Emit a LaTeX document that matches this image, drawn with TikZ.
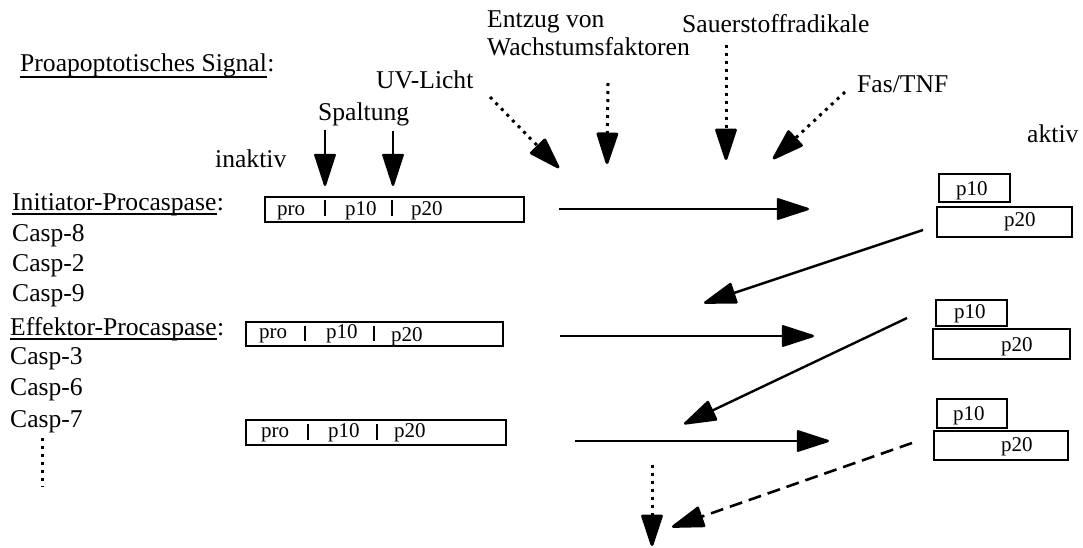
\documentclass[tikz,border=0pt]{standalone}
\usepackage{fontspec}
\setmainfont{Liberation Serif}
\usetikzlibrary{arrows.meta}
\begin{document}
\begin{tikzpicture}[x=1pt,y=-1pt,
  lbl/.style={anchor=base west,inner sep=0pt,font=\fontsize{25.6}{30}\selectfont},
  sm/.style={anchor=base west,inner sep=0pt,font=\fontsize{21}{24}\selectfont},
  box/.style={draw,line width=2.8pt,inner sep=0pt},
  sep/.style={line width=2.8pt},
  uline/.style={line width=2.2pt},
  tip/.style={-{Triangle[length=35pt,width=22pt,round]}},
  arr/.style={line width=2.4pt,tip},
  dotarr/.style={line width=3pt,dash pattern=on 3pt off 5pt,tip},
  dasharr/.style={line width=2.6pt,dash pattern=on 13pt off 7pt,tip}
]
\useasboundingbox (0,0) rectangle (1083,547);

% left labels
\node[lbl] (sig) at (20,71) {Proapoptotisches Signal};
\node[lbl] (sigc) at (sig.base east) {:};
\draw[uline] ([yshift=-6pt]sig.base west) -- ([yshift=-6pt]sig.base east);

\node[lbl] (ini) at (12,210) {Initiator-Procaspase};
\node[lbl] (inic) at (ini.base east) {:};
\draw[uline] ([yshift=-4pt]ini.base west) -- ([yshift=-4pt]ini.base east);
\node[lbl] (c8) at (12,241) {Casp-8};
\node[lbl] (c2) at (12,271) {Casp-2};
\node[lbl] (c9) at (12,301) {Casp-9};

\node[lbl] (eff) at (10,335) {Effektor-Procaspase};
\node[lbl] (effc) at (eff.base east) {:};
\draw[uline] ([yshift=-4pt]eff.base west) -- ([yshift=-4pt]eff.base east);
\node[lbl] (c3) at (10,364) {Casp-3};
\node[lbl] (c6) at (10,395) {Casp-6};
\node[lbl] (c7) at (10,427) {Casp-7};
\coordinate (vd1) at (42,438);
\coordinate (vd2) at (42,487);
\draw[line width=3pt,dash pattern=on 3pt off 5pt] (vd1) -- (vd2);

% top labels
\node[lbl] (inak) at (215,167) {inaktiv};
\node[lbl] (spalt) at (318,120) {Spaltung};
\node[lbl] (uv) at (376,88) {UV-Licht};
\node[lbl] (ent1) at (487,27) {Entzug von};
\node[lbl] (ent2) at (487,55) {Wachstumsfaktoren};
\node[lbl] (sau) at (682,32) {Sauerstoffradikale};
\node[lbl] (fas) at (857,92) {Fas/TNF};
\node[lbl] (akt) at (1027,142) {aktiv};

% inactive boxes
\node[box,minimum width=259pt,minimum height=25pt] (b1) at (394.5,209.5) {};
\node[sm] (b1a) at (277,215) {pro};
\node[sm] (b1b) at (345,215) {p10};
\node[sm] (b1c) at (411,215) {p20};
\draw[sep] (325,200) -- (325,216);
\draw[sep] (392,200) -- (392,216);

\node[box,minimum width=257pt,minimum height=24pt] (b2) at (374.5,334) {};
\node[sm] (b2a) at (259,338) {pro};
\node[sm] (b2b) at (326,338) {p10};
\node[sm] (b2c) at (391,341) {p20};
\draw[sep] (305,326) -- (305,341);
\draw[sep] (374,326) -- (374,341);

\node[box,minimum width=260pt,minimum height=25pt] (b3) at (376,432.5) {};
\node[sm] (b3a) at (261,437) {pro};
\node[sm] (b3b) at (328,437) {p10};
\node[sm] (b3c) at (394,437) {p20};
\draw[sep] (308,424) -- (308,440);
\draw[sep] (377,424) -- (377,440);

% active boxes
\node[box,minimum width=71pt,minimum height=28pt] (a1p10) at (974.5,188) {};
\node[box,minimum width=135pt,minimum height=30pt] (a1p20) at (1004.5,222) {};
\node[sm] (a1t1) at (956,195) {p10};
\node[sm] (a1t2) at (1004,226) {p20};

\node[box,minimum width=71pt,minimum height=26pt] (a2p10) at (971.5,313) {};
\node[box,minimum width=137pt,minimum height=30pt] (a2p20) at (1001.5,344) {};
\node[sm] (a2t1) at (954,318) {p10};
\node[sm] (a2t2) at (1001,351) {p20};

\node[box,minimum width=70pt,minimum height=29pt] (a3p10) at (972,413.5) {};
\node[box,minimum width=134pt,minimum height=29pt] (a3p20) at (1001,445.5) {};
\node[sm] (a3t1) at (953,420) {p10};
\node[sm] (a3t2) at (1001,451) {p20};

% Spaltung arrows
\coordinate (s1s) at (325,130); \coordinate (s1e) at (325,186);
\coordinate (s2s) at (393,131); \coordinate (s2e) at (393,186);
\draw[arr] (s1s) -- (s1e);
\draw[arr] (s2s) -- (s2e);

% signal arrows (dotted)
\coordinate (uvs) at (490,97); \coordinate (uve) at (559,168);
\coordinate (ws) at (608,83); \coordinate (we) at (607,164);
\coordinate (ss) at (726,45); \coordinate (se) at (726,160);
\coordinate (fs) at (845,92); \coordinate (fe) at (773,159);
\draw[dotarr] (uvs) -- (uve);
\draw[dotarr] (ws) -- (we);
\draw[dotarr] (ss) -- (se);
\draw[dotarr] (fs) -- (fe);

% horizontal arrows
\coordinate (h1s) at (559,209); \coordinate (h1e) at (809,209);
\coordinate (h2s) at (560,336); \coordinate (h2e) at (814,336);
\coordinate (h3s) at (575,441); \coordinate (h3e) at (829,441);
\draw[arr] (h1s) -- (h1e);
\draw[arr] (h2s) -- (h2e);
\draw[arr] (h3s) -- (h3e);

% diagonal arrows
\coordinate (d1s) at (923,230); \coordinate (d1e) at (704,303);
\coordinate (d2s) at (907,318); \coordinate (d2e) at (684,424);
\coordinate (d3s) at (912,443); \coordinate (d3e) at (672,527);
\draw[arr] (d1s) -- (d1e);
\draw[arr] (d2s) -- (d2e);
\draw[dasharr] (d3s) -- (d3e);

% bottom dotted arrow
\coordinate (bs) at (652,465); \coordinate (be) at (652,546);
\draw[dotarr] (bs) -- (be);
\end{tikzpicture}
\end{document}
